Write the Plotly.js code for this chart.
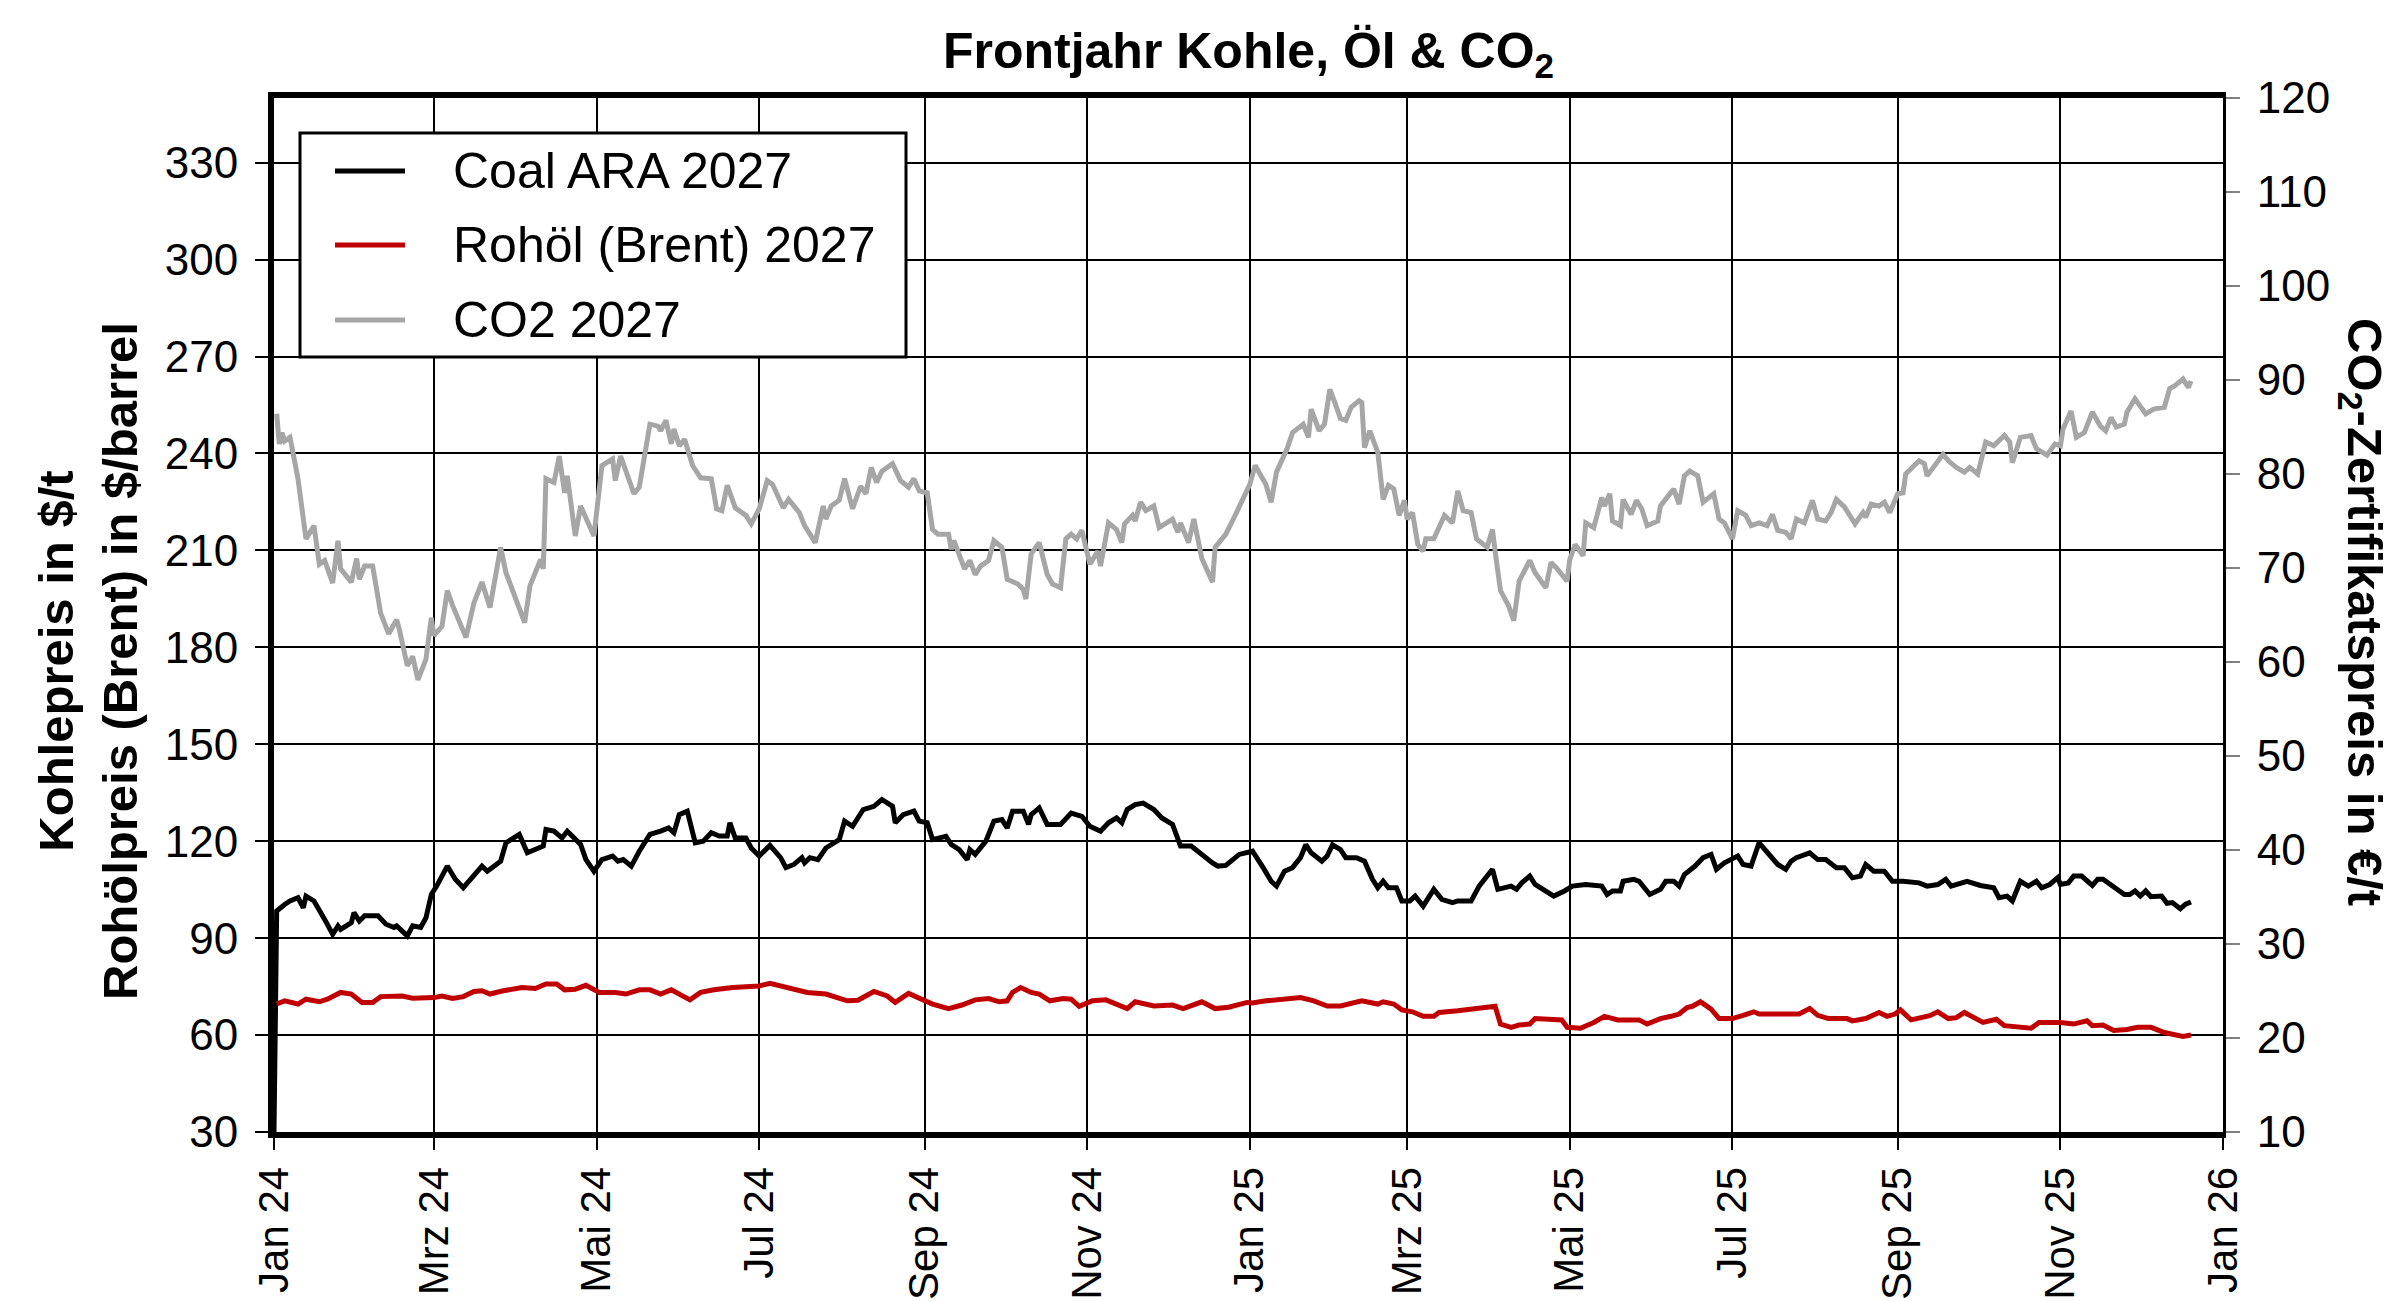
<!DOCTYPE html>
<html>
<head>
<meta charset="utf-8">
<script src="https://cdn.plot.ly/plotly-3.0.1.min.js"></script>
<style>
  html, body { margin: 0; padding: 0; background: #fff; }
  #chart { width: 2400px; height: 1301px; }
</style>
</head>
<body>
<div id="chart"></div>
<script>
const seriesNames = ['Coal ARA 2027', 'Rohöl (Brent) 2027', 'CO2 2027'];
const seriesColors = ['#000000', '#c00000', '#a6a6a6'];

const tickDates = ['2024-01-01', '2024-03-01', '2024-05-01', '2024-07-01', '2024-09-01', '2024-11-01',
  '2025-01-01', '2025-03-01', '2025-05-01', '2025-07-01', '2025-09-01', '2025-11-01', '2026-01-01'];
const tickLabels = ['Jan 24', 'Mrz 24', 'Mai 24', 'Jul 24', 'Sep 24', 'Nov 24',
  'Jan 25', 'Mrz 25', 'Mai 25', 'Jul 25', 'Sep 25', 'Nov 25', 'Jan 26'];

// Coal ARA 2027 in $/t
const coalDates = [
  '2024-01-01', '2024-01-02', '2024-01-05', '2024-01-07', '2024-01-10', '2024-01-12', '2024-01-13', '2024-01-16',
  '2024-01-20', '2024-01-23', '2024-01-25', '2024-01-26', '2024-01-30', '2024-01-31', '2024-02-02', '2024-02-04',
  '2024-02-09', '2024-02-12', '2024-02-15', '2024-02-16', '2024-02-20', '2024-02-22', '2024-02-25', '2024-02-27',
  '2024-02-29', '2024-03-02', '2024-03-06', '2024-03-09', '2024-03-12', '2024-03-15', '2024-03-19', '2024-03-21',
  '2024-03-26', '2024-03-28', '2024-04-02', '2024-04-05', '2024-04-11', '2024-04-12', '2024-04-15', '2024-04-18',
  '2024-04-20', '2024-04-25', '2024-04-27', '2024-04-30', '2024-05-03', '2024-05-07', '2024-05-09', '2024-05-11',
  '2024-05-14', '2024-05-17', '2024-05-21', '2024-05-25', '2024-05-28', '2024-05-30', '2024-06-01', '2024-06-04',
  '2024-06-07', '2024-06-10', '2024-06-13', '2024-06-16', '2024-06-19', '2024-06-20', '2024-06-22', '2024-06-26',
  '2024-06-28', '2024-07-01', '2024-07-05', '2024-07-09', '2024-07-11', '2024-07-14', '2024-07-17', '2024-07-18',
  '2024-07-20', '2024-07-23', '2024-07-26', '2024-07-31', '2024-08-02', '2024-08-05', '2024-08-09', '2024-08-13',
  '2024-08-16', '2024-08-20', '2024-08-21', '2024-08-24', '2024-08-28', '2024-08-30', '2024-09-02', '2024-09-04',
  '2024-09-07', '2024-09-09', '2024-09-11', '2024-09-14', '2024-09-17', '2024-09-18', '2024-09-20', '2024-09-24',
  '2024-09-27', '2024-09-30', '2024-10-02', '2024-10-04', '2024-10-08', '2024-10-10', '2024-10-11', '2024-10-14',
  '2024-10-17', '2024-10-22', '2024-10-26', '2024-10-30', '2024-11-02', '2024-11-06', '2024-11-09', '2024-11-12',
  '2024-11-14', '2024-11-16', '2024-11-19', '2024-11-22', '2024-11-26', '2024-11-29', '2024-12-03', '2024-12-06',
  '2024-12-10', '2024-12-13', '2024-12-18', '2024-12-20', '2024-12-23', '2024-12-28', '2025-01-02', '2025-01-06',
  '2025-01-09', '2025-01-11', '2025-01-14', '2025-01-17', '2025-01-20', '2025-01-22', '2025-01-24', '2025-01-28',
  '2025-01-30', '2025-02-01', '2025-02-04', '2025-02-06', '2025-02-10', '2025-02-13', '2025-02-16', '2025-02-18',
  '2025-02-20', '2025-02-22', '2025-02-25', '2025-02-27', '2025-03-02', '2025-03-04', '2025-03-07', '2025-03-11',
  '2025-03-14', '2025-03-18', '2025-03-20', '2025-03-25', '2025-03-28', '2025-04-02', '2025-04-04', '2025-04-09',
  '2025-04-11', '2025-04-13', '2025-04-16', '2025-04-18', '2025-04-21', '2025-04-25', '2025-04-29', '2025-05-02',
  '2025-05-07', '2025-05-13', '2025-05-15', '2025-05-17', '2025-05-20', '2025-05-21', '2025-05-25', '2025-05-27',
  '2025-05-31', '2025-06-04', '2025-06-06', '2025-06-09', '2025-06-11', '2025-06-13', '2025-06-17', '2025-06-20',
  '2025-06-23', '2025-06-25', '2025-06-28', '2025-06-30', '2025-07-03', '2025-07-05', '2025-07-08', '2025-07-11',
  '2025-07-15', '2025-07-18', '2025-07-21', '2025-07-23', '2025-07-25', '2025-07-30', '2025-08-02', '2025-08-05',
  '2025-08-09', '2025-08-12', '2025-08-15', '2025-08-18', '2025-08-20', '2025-08-23', '2025-08-27', '2025-08-30',
  '2025-09-03', '2025-09-09', '2025-09-12', '2025-09-16', '2025-09-19', '2025-09-21', '2025-09-27', '2025-10-02',
  '2025-10-07', '2025-10-09', '2025-10-12', '2025-10-14', '2025-10-17', '2025-10-20', '2025-10-23', '2025-10-25',
  '2025-10-28', '2025-10-31', '2025-11-01', '2025-11-04', '2025-11-06', '2025-11-09', '2025-11-13', '2025-11-15',
  '2025-11-17', '2025-11-22', '2025-11-25', '2025-11-27', '2025-11-29', '2025-12-01', '2025-12-03', '2025-12-05',
  '2025-12-09', '2025-12-11', '2025-12-13', '2025-12-16', '2025-12-18', '2025-12-20',
];
const coalPrices = [
  30, 98.4, 100.4, 101.5, 102.5, 99.4, 103.0, 101.5,
  95.8, 91.2, 93.8, 92.7, 94.8, 97.9, 95.3, 96.9,
  96.9, 94.3, 93.3, 93.8, 90.7, 93.8, 93.3, 96.3,
  103.5, 106.1, 112.3, 108.2, 105.6, 108.7, 112.3, 110.7,
  113.8, 119.5, 122.1, 116.4, 118.5, 123.6, 123.1, 121.0,
  123.1, 119.0, 114.3, 110.7, 114.3, 115.4, 113.8, 114.3,
  112.3, 116.9, 122.1, 123.1, 124.1, 122.6, 128.2, 129.3,
  119.5, 120.0, 122.6, 121.6, 121.6, 125.7, 121.0, 121.0,
  117.9, 115.4, 118.7, 114.9, 111.8, 112.8, 114.9, 113.3,
  114.9, 114.3, 117.9, 120.5, 126.2, 124.6, 129.8, 130.8,
  132.9, 130.8, 125.7, 128.2, 129.3, 126.2, 125.7, 120.5,
  121.0, 121.5, 119.0, 117.4, 114.3, 117.4, 115.9, 120.0,
  126.2, 126.7, 124.1, 129.3, 129.3, 125.2, 128.2, 130.3,
  125.2, 125.2, 128.7, 127.7, 124.6, 123.1, 125.7, 127.2,
  125.7, 129.8, 131.3, 131.8, 129.8, 127.2, 125.2, 118.5,
  118.5, 116.4, 113.3, 112.3, 112.5, 115.9, 116.9, 111.8,
  107.6, 106.1, 110.7, 111.8, 114.9, 118.9, 116.4, 113.8,
  115.4, 118.9, 117.4, 114.9, 114.9, 113.8, 108.2, 105.6,
  107.6, 105.6, 105.6, 101.5, 101.5, 103.0, 99.9, 105.1,
  102.0, 101.0, 101.5, 101.5, 106.1, 111.3, 105.1, 106.1,
  105.1, 107.1, 109.2, 106.6, 105.1, 103.0, 104.6, 106.1,
  106.6, 106.1, 103.5, 104.6, 104.6, 107.6, 108.2, 107.6,
  103.5, 105.1, 107.6, 107.6, 106.1, 109.7, 112.3, 114.9,
  115.9, 111.3, 113.3, 114.0, 115.4, 112.8, 112.3, 119.5,
  115.4, 112.8, 111.3, 113.8, 114.9, 116.4, 114.3, 114.3,
  111.8, 111.8, 108.7, 109.2, 112.8, 110.7, 110.7, 107.6,
  107.6, 107.1, 106.1, 106.6, 108.2, 106.1, 107.6, 106.3,
  105.6, 102.5, 103.0, 101.5, 107.6, 106.1, 107.6, 105.6,
  106.6, 108.7, 106.6, 107.1, 109.2, 109.2, 106.3, 108.2,
  108.2, 105.1, 103.5, 103.5, 104.6, 103.0, 104.6, 102.8,
  103.0, 100.8, 101.0, 99.1, 100.5, 101.2,
];

// Rohöl (Brent) 2027 in $/barrel
const oilDates = [
  '2024-01-02', '2024-01-05', '2024-01-10', '2024-01-13', '2024-01-18', '2024-01-21', '2024-01-26', '2024-01-30',
  '2024-02-03', '2024-02-07', '2024-02-10', '2024-02-18', '2024-02-22', '2024-03-01', '2024-03-04', '2024-03-08',
  '2024-03-12', '2024-03-16', '2024-03-19', '2024-03-22', '2024-03-27', '2024-04-03', '2024-04-08', '2024-04-12',
  '2024-04-16', '2024-04-19', '2024-04-23', '2024-04-27', '2024-05-02', '2024-05-08', '2024-05-12', '2024-05-17',
  '2024-05-21', '2024-05-25', '2024-05-29', '2024-06-01', '2024-06-05', '2024-06-09', '2024-06-14', '2024-06-21',
  '2024-06-27', '2024-07-01', '2024-07-05', '2024-07-12', '2024-07-19', '2024-07-26', '2024-07-31', '2024-08-03',
  '2024-08-07', '2024-08-13', '2024-08-18', '2024-08-21', '2024-08-26', '2024-08-31', '2024-09-04', '2024-09-10',
  '2024-09-15', '2024-09-20', '2024-09-25', '2024-09-29', '2024-10-02', '2024-10-04', '2024-10-07', '2024-10-11',
  '2024-10-14', '2024-10-18', '2024-10-23', '2024-10-26', '2024-10-29', '2024-11-03', '2024-11-08', '2024-11-16',
  '2024-11-19', '2024-11-26', '2024-12-03', '2024-12-07', '2024-12-14', '2024-12-19', '2024-12-24', '2024-12-31',
  '2025-01-02', '2025-01-07', '2025-01-16', '2025-01-20', '2025-01-25', '2025-01-30', '2025-02-04', '2025-02-08',
  '2025-02-12', '2025-02-18', '2025-02-20', '2025-02-24', '2025-02-27', '2025-03-03', '2025-03-07', '2025-03-11',
  '2025-03-13', '2025-03-20', '2025-03-25', '2025-03-30', '2025-04-03', '2025-04-05', '2025-04-09', '2025-04-12',
  '2025-04-16', '2025-04-18', '2025-04-24', '2025-04-28', '2025-04-30', '2025-05-05', '2025-05-10', '2025-05-14',
  '2025-05-19', '2025-05-27', '2025-05-30', '2025-06-04', '2025-06-08', '2025-06-11', '2025-06-14', '2025-06-16',
  '2025-06-19', '2025-06-23', '2025-06-26', '2025-07-01', '2025-07-05', '2025-07-09', '2025-07-11', '2025-07-16',
  '2025-07-26', '2025-07-30', '2025-08-02', '2025-08-06', '2025-08-13', '2025-08-15', '2025-08-20', '2025-08-25',
  '2025-08-28', '2025-08-31', '2025-09-02', '2025-09-06', '2025-09-11', '2025-09-13', '2025-09-16', '2025-09-20',
  '2025-09-23', '2025-09-26', '2025-10-03', '2025-10-08', '2025-10-11', '2025-10-17', '2025-10-21', '2025-10-24',
  '2025-11-01', '2025-11-06', '2025-11-11', '2025-11-13', '2025-11-17', '2025-11-21', '2025-11-26', '2025-11-30',
  '2025-12-05', '2025-12-10', '2025-12-13', '2025-12-17', '2025-12-20',
];
const oilPrices = [
  69.6, 70.6, 69.6, 71.1, 70.3, 71.1, 73.2, 72.7,
  70.1, 70.1, 71.9, 72.1, 71.4, 71.6, 72.1, 71.3,
  71.9, 73.5, 73.7, 72.7, 73.7, 74.7, 74.4, 75.8,
  75.8, 74.0, 74.2, 75.4, 73.2, 73.2, 72.7, 74.0,
  74.0, 72.7, 74.0, 72.7, 70.9, 73.2, 74.0, 74.7,
  75.0, 75.2, 76.0, 74.4, 73.2, 72.7, 71.6, 70.6,
  70.8, 73.5, 72.1, 70.1, 72.9, 71.1, 69.6, 68.2,
  69.3, 70.9, 71.3, 70.3, 70.6, 73.2, 74.7, 73.2,
  72.7, 70.6, 71.3, 71.1, 68.9, 70.6, 70.9, 68.2,
  70.3, 69.0, 69.3, 68.2, 70.3, 68.2, 68.6, 70.1,
  69.9, 70.6, 71.3, 71.6, 70.6, 69.0, 69.0, 69.8,
  70.6, 69.6, 70.3, 69.6, 67.8, 67.2, 65.8, 65.8,
  67.0, 67.5, 68.0, 68.5, 68.9, 63.4, 62.4, 63.1,
  63.4, 65.1, 64.9, 64.7, 62.4, 62.1, 63.9, 65.8,
  64.7, 64.7, 63.4, 65.1, 65.8, 66.5, 68.5, 68.9,
  70.3, 68.0, 65.1, 65.1, 66.1, 67.2, 66.5, 66.5,
  66.5, 68.2, 66.1, 65.1, 65.1, 64.4, 65.1, 67.0,
  65.8, 66.5, 67.8, 64.7, 65.8, 66.0, 67.2, 65.1,
  65.4, 67.0, 63.9, 64.9, 62.9, 62.4, 62.1, 63.9,
  63.9, 63.4, 64.4, 62.9, 63.1, 61.4, 61.7, 62.4,
  62.4, 60.8, 60.3, 59.6, 60.0,
];

// CO2 2027 in €/t (right axis)
const co2Dates = [
  '2024-01-02', '2024-01-03', '2024-01-04', '2024-01-05', '2024-01-07', '2024-01-08', '2024-01-10', '2024-01-13',
  '2024-01-16', '2024-01-18', '2024-01-20', '2024-01-23', '2024-01-25', '2024-01-26', '2024-01-30', '2024-02-01',
  '2024-02-02', '2024-02-04', '2024-02-07', '2024-02-10', '2024-02-13', '2024-02-16', '2024-02-17', '2024-02-20',
  '2024-02-22', '2024-02-24', '2024-02-27', '2024-02-29', '2024-03-01', '2024-03-04', '2024-03-06', '2024-03-08',
  '2024-03-13', '2024-03-16', '2024-03-19', '2024-03-22', '2024-03-26', '2024-03-28', '2024-04-04', '2024-04-06',
  '2024-04-10', '2024-04-11', '2024-04-12', '2024-04-15', '2024-04-17', '2024-04-19', '2024-04-20', '2024-04-23',
  '2024-04-25', '2024-04-30', '2024-05-03', '2024-05-07', '2024-05-08', '2024-05-10', '2024-05-15', '2024-05-17',
  '2024-05-21', '2024-05-24', '2024-05-25', '2024-05-27', '2024-05-29', '2024-05-30', '2024-06-01', '2024-06-03',
  '2024-06-06', '2024-06-09', '2024-06-13', '2024-06-15', '2024-06-17', '2024-06-19', '2024-06-22', '2024-06-26',
  '2024-06-28', '2024-07-01', '2024-07-04', '2024-07-06', '2024-07-10', '2024-07-12', '2024-07-16', '2024-07-18',
  '2024-07-22', '2024-07-25', '2024-07-26', '2024-07-28', '2024-07-31', '2024-08-02', '2024-08-05', '2024-08-08',
  '2024-08-10', '2024-08-12', '2024-08-14', '2024-08-16', '2024-08-20', '2024-08-23', '2024-08-26', '2024-08-28',
  '2024-08-30', '2024-09-02', '2024-09-04', '2024-09-06', '2024-09-10', '2024-09-11', '2024-09-12', '2024-09-16',
  '2024-09-18', '2024-09-20', '2024-09-22', '2024-09-25', '2024-09-27', '2024-09-30', '2024-10-02', '2024-10-06',
  '2024-10-08', '2024-10-09', '2024-10-11', '2024-10-14', '2024-10-17', '2024-10-19', '2024-10-22', '2024-10-24',
  '2024-10-26', '2024-10-28', '2024-10-30', '2024-11-02', '2024-11-05', '2024-11-06', '2024-11-09', '2024-11-12',
  '2024-11-14', '2024-11-15', '2024-11-18', '2024-11-19', '2024-11-21', '2024-11-23', '2024-11-26', '2024-11-28',
  '2024-12-03', '2024-12-05', '2024-12-06', '2024-12-09', '2024-12-11', '2024-12-14', '2024-12-18', '2024-12-19',
  '2024-12-23', '2024-12-27', '2025-01-01', '2025-01-03', '2025-01-07', '2025-01-09', '2025-01-11', '2025-01-15',
  '2025-01-17', '2025-01-21', '2025-01-23', '2025-01-24', '2025-01-27', '2025-01-29', '2025-01-31', '2025-02-02',
  '2025-02-04', '2025-02-06', '2025-02-08', '2025-02-11', '2025-02-12', '2025-02-13', '2025-02-15', '2025-02-18',
  '2025-02-20', '2025-02-22', '2025-02-24', '2025-02-26', '2025-02-28', '2025-03-01', '2025-03-03', '2025-03-05',
  '2025-03-07', '2025-03-08', '2025-03-11', '2025-03-15', '2025-03-18', '2025-03-20', '2025-03-22', '2025-03-25',
  '2025-03-27', '2025-03-31', '2025-04-02', '2025-04-03', '2025-04-05', '2025-04-08', '2025-04-10', '2025-04-12',
  '2025-04-16', '2025-04-18', '2025-04-22', '2025-04-24', '2025-04-26', '2025-04-30', '2025-05-01', '2025-05-03',
  '2025-05-06', '2025-05-07', '2025-05-10', '2025-05-13', '2025-05-14', '2025-05-16', '2025-05-17', '2025-05-20',
  '2025-05-21', '2025-05-24', '2025-05-26', '2025-05-28', '2025-05-30', '2025-06-03', '2025-06-04', '2025-06-07',
  '2025-06-09', '2025-06-11', '2025-06-13', '2025-06-15', '2025-06-18', '2025-06-20', '2025-06-24', '2025-06-26',
  '2025-06-28', '2025-07-01', '2025-07-03', '2025-07-06', '2025-07-08', '2025-07-11', '2025-07-14', '2025-07-16',
  '2025-07-18', '2025-07-21', '2025-07-23', '2025-07-25', '2025-07-28', '2025-07-31', '2025-08-02', '2025-08-05',
  '2025-08-07', '2025-08-09', '2025-08-12', '2025-08-16', '2025-08-19', '2025-08-20', '2025-08-22', '2025-08-25',
  '2025-08-27', '2025-08-29', '2025-09-01', '2025-09-03', '2025-09-04', '2025-09-09', '2025-09-11', '2025-09-12',
  '2025-09-16', '2025-09-18', '2025-09-20', '2025-09-23', '2025-09-26', '2025-09-28', '2025-10-01', '2025-10-04',
  '2025-10-07', '2025-10-11', '2025-10-13', '2025-10-14', '2025-10-17', '2025-10-21', '2025-10-23', '2025-10-27',
  '2025-10-30', '2025-11-01', '2025-11-02', '2025-11-05', '2025-11-07', '2025-11-10', '2025-11-13', '2025-11-16',
  '2025-11-18', '2025-11-20', '2025-11-22', '2025-11-25', '2025-11-26', '2025-11-29', '2025-12-03', '2025-12-06',
  '2025-12-10', '2025-12-12', '2025-12-14', '2025-12-17', '2025-12-19', '2025-12-20',
];
const co2Prices = [
  86.4, 83.2, 84.4, 83.5, 83.9, 82.5, 79.5, 73.1,
  74.5, 70.4, 70.8, 68.4, 72.9, 69.9, 68.5, 71.0,
  68.8, 70.2, 70.2, 65.2, 63.0, 64.5, 63.5, 59.6,
  60.6, 58.1, 60.3, 64.7, 62.8, 63.8, 67.6, 66.0,
  62.6, 66.3, 68.5, 65.8, 72.2, 69.5, 64.2, 68.1,
  70.9, 69.9, 79.5, 79.1, 81.9, 78.0, 79.8, 73.4,
  76.6, 73.4, 80.9, 81.6, 79.3, 81.9, 77.9, 78.6,
  85.3, 85.1, 84.6, 85.7, 83.2, 84.8, 83.0, 83.7,
  80.9, 79.6, 79.5, 76.3, 76.1, 78.8, 76.4, 75.6,
  74.7, 76.3, 79.3, 78.9, 76.4, 77.3, 75.9, 74.5,
  72.7, 76.6, 75.2, 76.6, 77.2, 79.5, 76.3, 78.7,
  77.9, 80.7, 79.1, 80.3, 81.1, 79.3, 78.6, 79.5,
  78.2, 78.0, 74.1, 73.6, 73.6, 72.0, 72.9, 69.9,
  70.8, 69.3, 70.2, 70.8, 72.9, 72.2, 68.8, 68.3,
  67.7, 66.7, 71.5, 72.7, 69.3, 68.3, 67.9, 73.1,
  73.6, 73.1, 74.0, 70.4, 71.8, 70.2, 74.8, 74.1,
  72.7, 74.7, 75.6, 75.0, 77.0, 76.1, 76.6, 74.3,
  75.2, 73.8, 74.8, 72.7, 75.2, 71.0, 68.5, 72.2,
  73.6, 75.9, 78.9, 80.9, 78.9, 77.0, 80.2, 82.7,
  84.4, 85.3, 83.9, 86.9, 84.6, 85.3, 89.0, 87.5,
  85.9, 85.7, 87.1, 87.8, 87.6, 82.8, 84.6, 82.3,
  77.3, 78.8, 78.4, 75.6, 77.2, 75.2, 75.9, 72.5,
  71.8, 73.1, 73.1, 75.6, 74.8, 78.2, 76.1, 75.9,
  73.1, 72.2, 74.1, 71.8, 67.6, 66.0, 64.4, 68.6,
  70.8, 69.5, 67.9, 70.6, 70.0, 68.6, 70.9, 72.5,
  71.3, 74.8, 74.3, 77.5, 76.6, 77.9, 75.0, 74.5,
  77.3, 75.7, 77.2, 76.3, 74.5, 75.0, 76.6, 77.7,
  78.4, 76.8, 79.8, 80.3, 79.8, 77.0, 77.9, 75.2,
  74.8, 73.1, 76.1, 75.6, 74.5, 74.8, 74.5, 75.7,
  74.0, 73.8, 73.1, 75.2, 74.8, 77.2, 75.2, 75.0,
  75.9, 77.3, 76.5, 74.7, 75.9, 75.4, 76.8, 76.6,
  77.0, 75.9, 77.9, 78.0, 80.0, 81.4, 81.1, 79.8,
  81.4, 82.1, 81.4, 80.7, 80.2, 80.7, 80.0, 83.4,
  83.0, 84.1, 83.4, 81.2, 83.9, 84.1, 82.7, 82.0,
  83.2, 83.0, 84.8, 86.7, 83.9, 84.4, 86.6, 85.1,
  84.6, 86.0, 85.0, 85.3, 86.6, 88.0, 86.4, 86.9,
  87.1, 89.1, 89.4, 90.1, 89.2, 89.9,
];

const fontFamily = 'Liberation Sans, Arial, sans-serif';

// plot box in page pixels, used for the hand-drawn legend and titles
const box = { left: 274, right: 2223, top: 98, bottom: 1132 };
const px = (x) => (x - box.left) / (box.right - box.left);
const py = (y) => (box.bottom - y) / (box.bottom - box.top);

const makeTrace = (x, y, idx, axis) => ({
  x: x,
  y: y,
  name: seriesNames[idx],
  type: 'scatter',
  mode: 'lines',
  yaxis: axis,
  line: { color: seriesColors[idx], width: 5 },
  hoverinfo: 'skip',
});

const traces = [
  makeTrace(coalDates, coalPrices, 0, 'y'),
  makeTrace(oilDates, oilPrices, 1, 'y'),
  makeTrace(co2Dates, co2Prices, 2, 'y2'),
];

const legendRows = [171, 245, 320];

const shapes = [{
  type: 'rect', xref: 'paper', yref: 'paper', layer: 'above',
  x0: px(300), x1: px(906), y0: py(357), y1: py(133),
  line: { color: '#000', width: 3 }, fillcolor: '#fff',
}];
const annotations = [];

legendRows.forEach((row, idx) => {
  shapes.push({
    type: 'line', xref: 'paper', yref: 'paper', layer: 'above',
    x0: px(335), x1: px(405), y0: py(row), y1: py(row),
    line: { color: seriesColors[idx], width: 5 },
  });
  annotations.push({
    xref: 'paper', yref: 'paper', x: px(451), y: py(row),
    xanchor: 'left', yanchor: 'middle', showarrow: false,
    text: seriesNames[idx],
    font: { family: fontFamily, size: 50, color: '#000' },
  });
});

annotations.push({
  xref: 'paper', yref: 'paper', x: px(88), y: py(661),
  xanchor: 'center', yanchor: 'middle', showarrow: false, textangle: -90,
  text: '<b>Kohlepreis in $/t</b><br><b>Rohölpreis (Brent) in $/barrel</b>',
  font: { family: fontFamily, size: 49, color: '#000' },
});
annotations.push({
  xref: 'paper', yref: 'paper', x: px(2362), y: py(612),
  xanchor: 'center', yanchor: 'middle', showarrow: false, textangle: 90,
  text: '<b>CO<sub>2</sub>-Zertifikatspreis in €/t</b>',
  font: { family: fontFamily, size: 49, color: '#000' },
});

const layout = {
  width: 2400,
  height: 1301,
  margin: { l: box.left, r: 2400 - box.right, t: box.top, b: 1301 - box.bottom },
  paper_bgcolor: '#fff',
  plot_bgcolor: '#fff',
  showlegend: false,
  font: { family: fontFamily, color: '#000', size: 42 },
  title: {
    text: '<b>Frontjahr Kohle, Öl & CO<sub>2</sub></b>',
    font: { family: fontFamily, size: 50, color: '#000' },
    x: 0.5, xref: 'paper', xanchor: 'center',
    y: 1 - 50 / 1301, yref: 'container', yanchor: 'middle',
  },
  xaxis: {
    type: 'date',
    range: ['2024-01-01', '2026-01-01'],
    tickmode: 'array',
    tickvals: tickDates,
    ticktext: tickLabels,
    tickangle: -90,
    ticks: 'outside', ticklen: 12, tickwidth: 2, tickcolor: '#000',
    showgrid: true, gridcolor: '#000', gridwidth: 2,
    showline: true, linecolor: '#000', linewidth: 6, mirror: true,
    zeroline: false,
    tickfont: { size: 42 },
  },
  yaxis: {
    range: [30, 350],
    tick0: 30, dtick: 30,
    ticks: 'outside', ticklen: 13, tickwidth: 2, tickcolor: '#000',
    ticklabelstandoff: 8,
    showgrid: true, gridcolor: '#000', gridwidth: 2,
    showline: true, linecolor: '#000', linewidth: 6,
    zeroline: false,
    tickfont: { size: 44 },
  },
  yaxis2: {
    range: [10, 120],
    tick0: 10, dtick: 10,
    overlaying: 'y', side: 'right',
    ticks: 'outside', ticklen: 14, tickwidth: 2, tickcolor: '#808080',
    ticklabelstandoff: 8,
    showgrid: false,
    showline: true, linecolor: '#000', linewidth: 3,
    zeroline: false,
    tickfont: { size: 44 },
  },
  shapes: shapes,
  annotations: annotations,
};

Plotly.newPlot('chart', traces, layout, { displayModeBar: false, staticPlot: true });
</script>
</body>
</html>
